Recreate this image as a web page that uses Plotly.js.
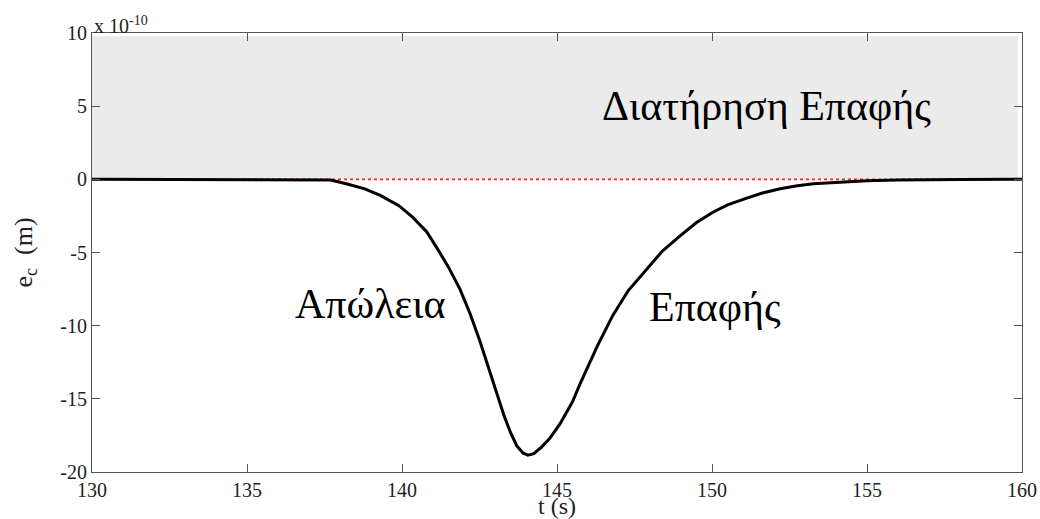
<!DOCTYPE html>
<html>
<head>
<meta charset="utf-8">
<script src="https://cdn.plot.ly/plotly-3.0.1.min.js"></script>
<style>
  html, body { margin: 0; padding: 0; background: #fff; }
  #chart { width: 1040px; height: 519px; }
  #chart svg text { font-family: 'Liberation Serif', 'DejaVu Serif', serif !important; }
</style>
</head>
<body>
<div id="chart"></div>
<script>
// Contact error e_c over time, values in units of 1e-10 m
const timeS = [130, 132, 134, 136, 137, 137.7, 138.2, 138.8, 139.3, 139.9, 140.35, 140.8,
  141.13, 141.5, 141.87, 142.2, 142.52, 142.8, 143.1, 143.3, 143.5, 143.7, 143.9, 144.06,
  144.25, 144.5, 144.77, 145.1, 145.5, 145.74, 146.3, 146.8, 147.3, 147.9, 148.4, 148.97,
  149.5, 150.03, 150.5, 151.1, 151.6, 152.2, 152.7, 153.26, 154.35, 155, 156, 157, 158, 160];
const errorE10 = [0, 0, 0, 0, -0.01, -0.05, -0.3, -0.65, -1.1, -1.8, -2.6, -3.6,
  -4.7, -6.0, -7.5, -9.2, -11.1, -12.9, -14.8, -16.2, -17.3, -18.2, -18.7, -18.85,
  -18.75, -18.3, -17.7, -16.7, -15.2, -14.0, -11.4, -9.3, -7.6, -6.1, -4.9, -3.86,
  -2.95, -2.25, -1.75, -1.3, -0.95, -0.65, -0.45, -0.3, -0.15, -0.1, -0.04, -0.015, -0.005, 0];

// Contact-maintained band (e_c >= 0)
const bandX = [130, 159.87];
const bandY = [0, 9.8];

// Zero reference line
const zeroX = [130, 160.1];
const zeroY = [0, 0];

const xTicks = [130, 135, 140, 145, 150, 155, 160];
const yTicks = [-20, -15, -10, -5, 0, 5, 10];

const FAMILY = 'Liberation Serif';

const traces = [
  {
    x: [bandX[0], bandX[1], bandX[1], bandX[0], bandX[0]],
    y: [bandY[0], bandY[0], bandY[1], bandY[1], bandY[0]],
    mode: 'lines', fill: 'toself', fillcolor: '#ebebeb',
    line: { width: 0, color: '#ebebeb' }, hoverinfo: 'skip', showlegend: false
  },
  {
    x: zeroX, y: zeroY, mode: 'lines',
    line: { color: '#ff2020', width: 1.6, dash: '3px,3px' },
    cliponaxis: false, showlegend: false
  },
  {
    x: timeS, y: errorE10, mode: 'lines',
    line: { color: '#000', width: 3 },
    showlegend: false
  }
];

const layout = {
  width: 1040, height: 519,
  margin: { l: 92, r: 18, t: 33, b: 47 },
  paper_bgcolor: '#fff', plot_bgcolor: '#fff',
  showlegend: false,
  xaxis: {
    range: [130, 160], tickvals: xTicks, ticktext: xTicks.map(String),
    showgrid: false, zeroline: false, showline: true, mirror: 'ticks',
    linecolor: '#555', linewidth: 1, ticks: 'inside', ticklen: 8, tickcolor: '#555',
    tickfont: { family: FAMILY, size: 20, color: '#222' },
    title: { text: 't (s)', font: { family: FAMILY, size: 24, color: '#222' }, standoff: 1 }
  },
  yaxis: {
    range: [-20, 10], tickvals: yTicks, ticktext: yTicks.map(String),
    showgrid: false, zeroline: false, showline: true, mirror: 'ticks',
    linecolor: '#555', linewidth: 1, ticks: 'inside', ticklen: 8, tickcolor: '#555',
    tickfont: { family: FAMILY, size: 20, color: '#222' },
    title: { text: 'e<sub>c</sub>  (m)', font: { family: FAMILY, size: 26, color: '#222' }, standoff: 20 }
  },
  annotations: [
    { xref: 'paper', yref: 'paper', x: 0, y: 1, xanchor: 'left', yanchor: 'bottom',
      text: 'x 10<sup>-10</sup>', showarrow: false, yshift: -6,
      font: { family: FAMILY, size: 20, color: '#222' } },
    { x: 151.77, y: 5, text: 'Διατήρηση Επαφής', showarrow: false,
      font: { family: FAMILY, size: 42, color: '#000' } },
    { x: 138.97, y: -8.5, text: 'Απώλεια', showarrow: false,
      font: { family: FAMILY, size: 42, color: '#000' } },
    { x: 150.1, y: -8.75, text: 'Επαφής', showarrow: false,
      font: { family: FAMILY, size: 42, color: '#000' } }
  ]
};

Plotly.newPlot('chart', traces, layout, { displayModeBar: false });
</script>
</body>
</html>
